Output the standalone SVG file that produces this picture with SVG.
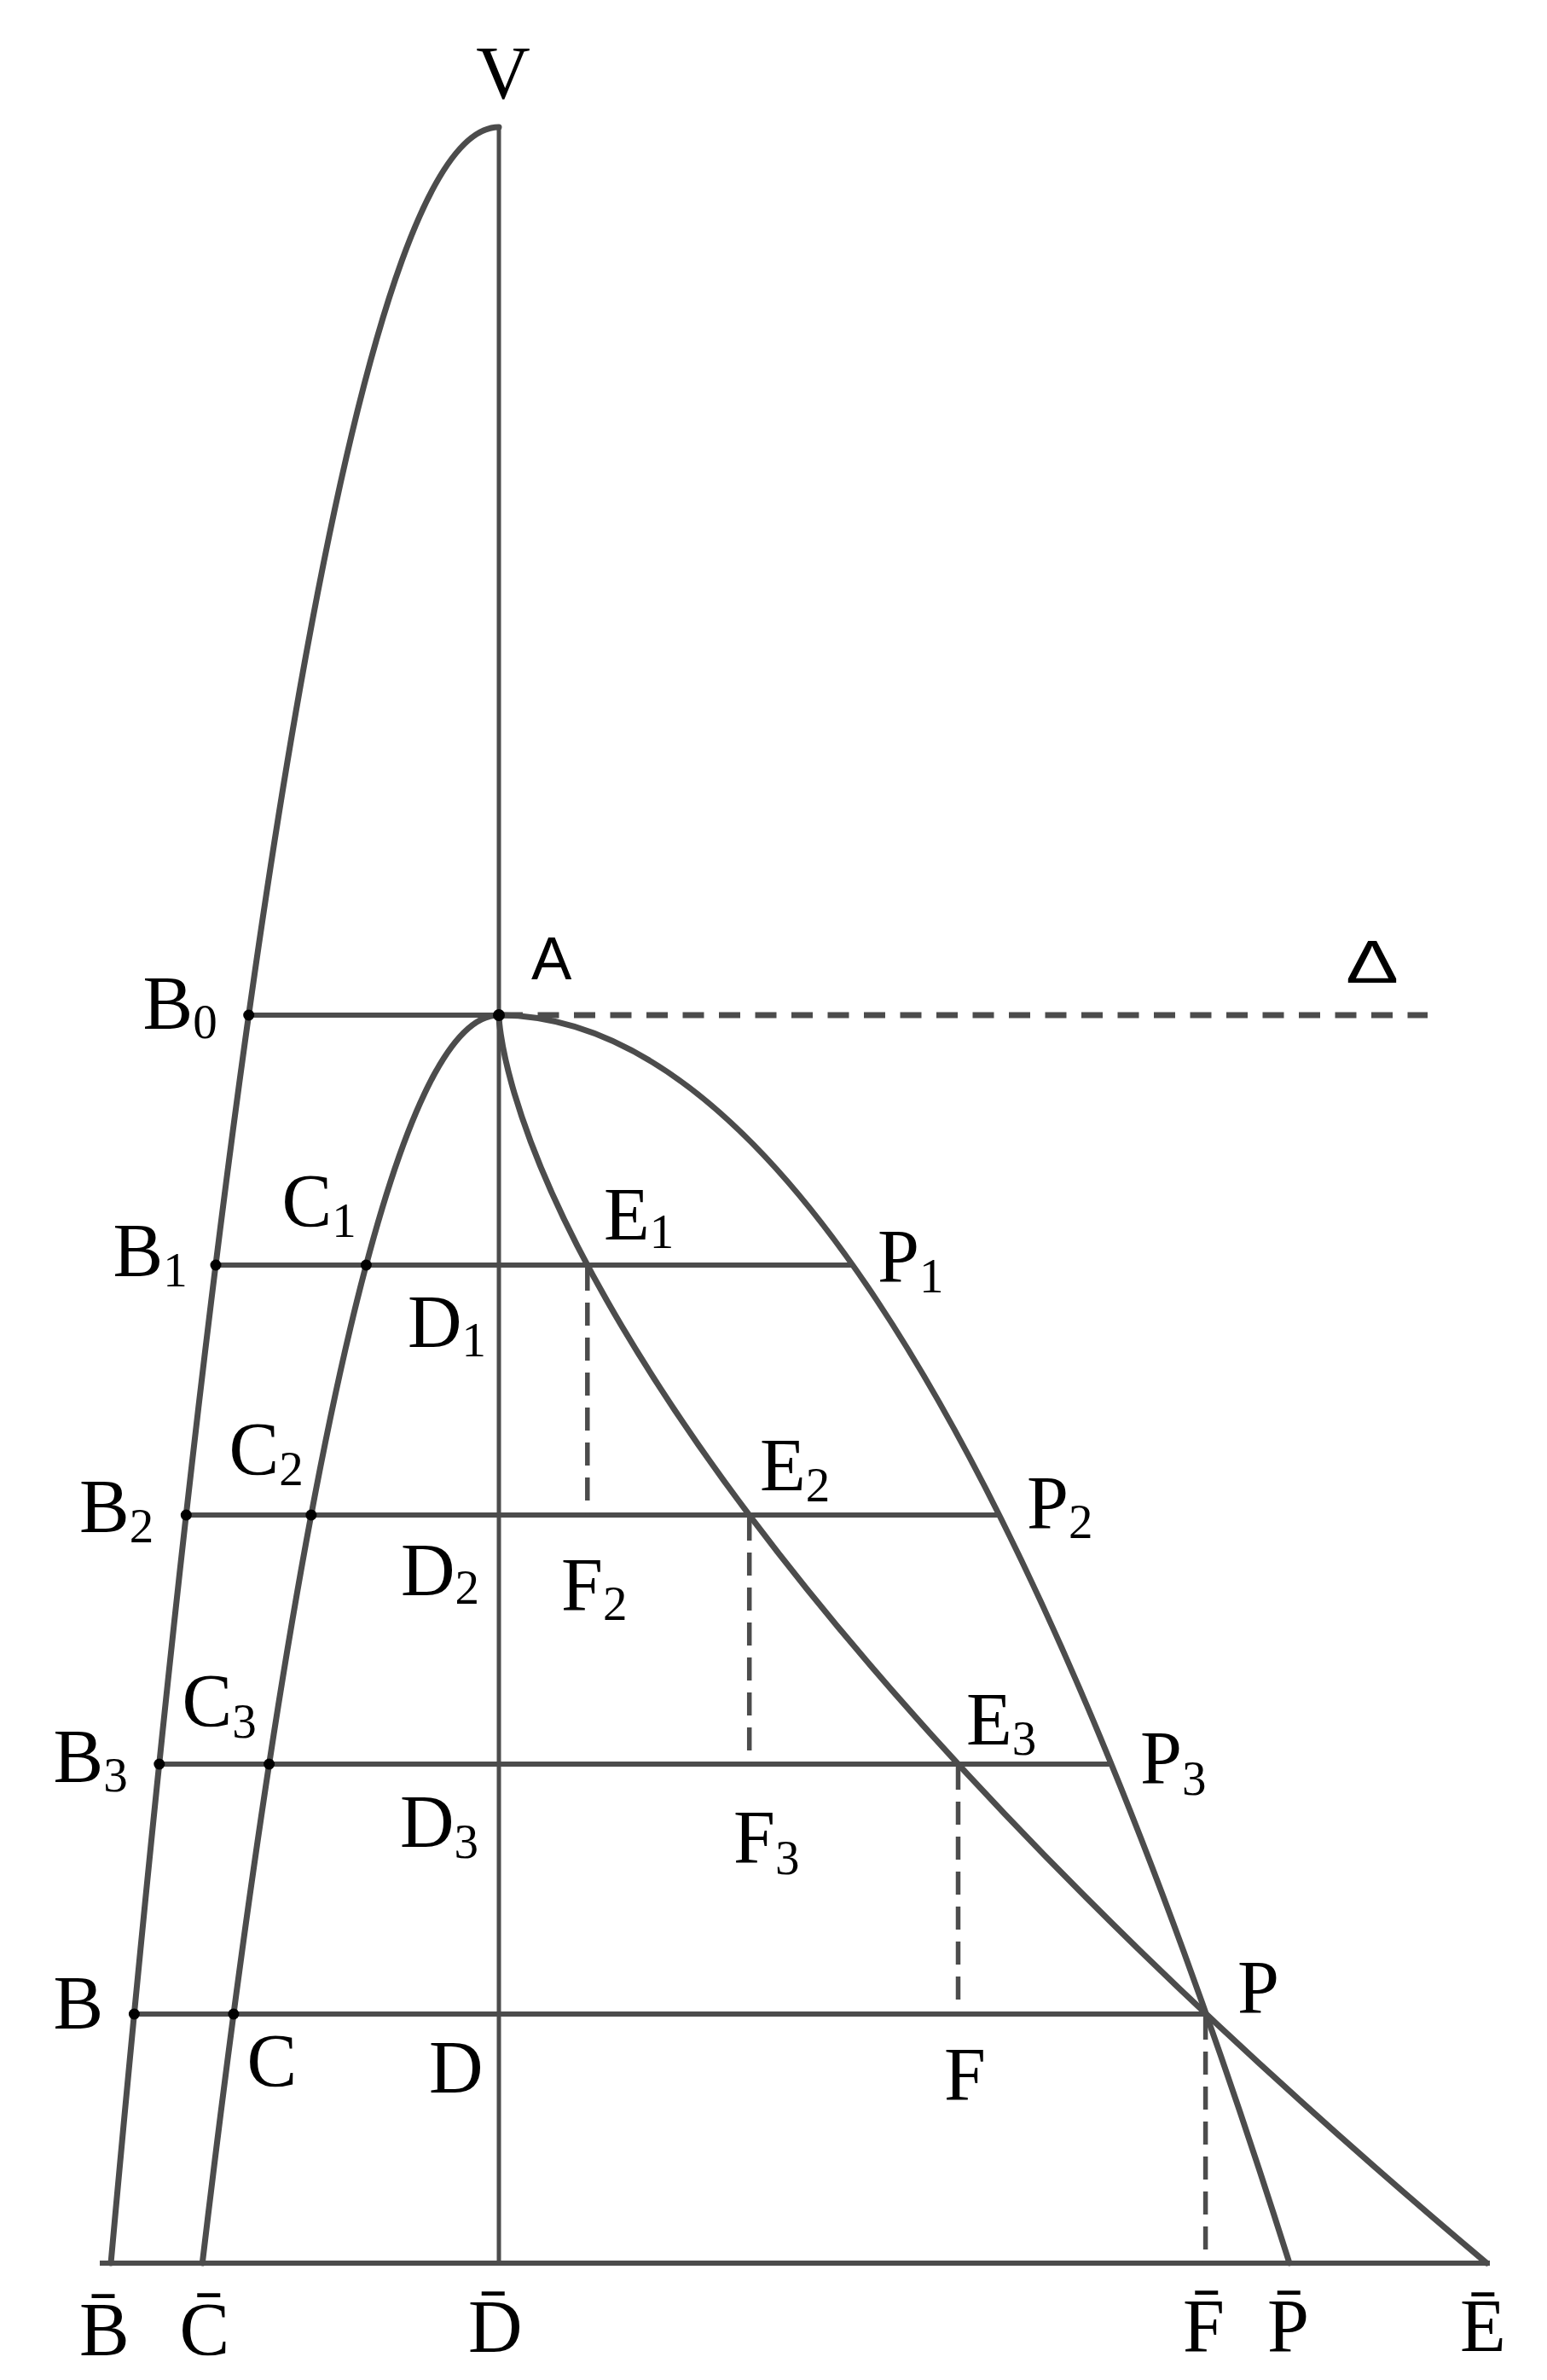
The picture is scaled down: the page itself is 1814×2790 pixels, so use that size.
<svg xmlns="http://www.w3.org/2000/svg" width="1814" height="2790" viewBox="0 0 1814 2790">
<style>
.c{fill:none;stroke:#4c4c4c;stroke-width:7;stroke-linecap:round}
.l{fill:none;stroke:#4c4c4c;stroke-width:6}
.v{fill:none;stroke:#4c4c4c;stroke-width:5}
.dh{fill:none;stroke:#4c4c4c;stroke-width:7;stroke-dasharray:25 17.5}
.dv{fill:none;stroke:#4c4c4c;stroke-width:5.5;stroke-dasharray:27 14}
.t{font-family:"Liberation Serif","Times New Roman",serif;font-size:88px;fill:#000}
.s{font-size:57px}
.a{font-family:"Liberation Sans",Arial,sans-serif;font-size:71px;fill:#000}
.d{fill:#000}
</style>
<rect width="1814" height="2790" fill="#fff"/>
<g id="curves">
<path class="c" d="M585,149 Q357.5,149 130,2653"/>
<path class="c" d="M585,1190 Q411,1190 237.3,2653"/>
<path class="c" d="M585,1190 Q1048.5,1190 1512,2653"/>
<path class="c" d="M585,1190 C585,1190 585,1677.7 1743.3,2653"/>
</g>
<g id="lines">
<line class="v" x1="585" y1="149" x2="585" y2="2653"/>
<line class="l" x1="291.7" y1="1190" x2="585" y2="1190"/>
<line class="dh" x1="588" y1="1190" x2="1674" y2="1190"/>
<line class="l" x1="253" y1="1483" x2="999.4" y2="1483"/>
<line class="l" x1="218.3" y1="1776" x2="1171" y2="1776"/>
<line class="l" x1="186.8" y1="2068" x2="1302.4" y2="2068"/>
<line class="l" x1="157.4" y1="2361" x2="1413.6" y2="2361"/>
<line class="l" x1="117" y1="2653" x2="1747" y2="2653"/>
<line class="dv" x1="688.8" y1="1486" x2="688.8" y2="1776"/>
<line class="dv" x1="878.7" y1="1779" x2="878.7" y2="2068"/>
<line class="dv" x1="1123.5" y1="2071" x2="1123.5" y2="2361"/>
<line class="dv" x1="1413.6" y1="2364" x2="1413.6" y2="2653"/>
</g>
<g id="dots">
<circle class="d" cx="291.7" cy="1190" r="6.5"/>
<circle class="d" cx="585" cy="1190" r="7"/>
<circle class="d" cx="253" cy="1483" r="6.5"/>
<circle class="d" cx="429.4" cy="1483" r="6.5"/>
<circle class="d" cx="218.3" cy="1776" r="6.5"/>
<circle class="d" cx="364.9" cy="1776" r="6.5"/>
<circle class="d" cx="186.8" cy="2068" r="6.5"/>
<circle class="d" cx="315.6" cy="2068" r="6.5"/>
<circle class="d" cx="157.4" cy="2361" r="6.5"/>
<circle class="d" cx="273.9" cy="2361" r="6.5"/>
</g>
<g id="labels">
<text class="t" x="590" y="115" text-anchor="middle">V</text>
<text class="a" x="623" y="1148">A</text>
<text class="a" x="1578" y="1152" textLength="62" lengthAdjust="spacingAndGlyphs">Δ</text>
<text class="t" x="167.5" y="1205">B<tspan class="s" dy="12">0</tspan></text>
<text class="t" x="132.5" y="1495">B<tspan class="s" dy="13">1</tspan></text>
<text class="t" x="330.5" y="1437">C<tspan class="s" dy="13">1</tspan></text>
<text class="t" x="478" y="1579">D<tspan class="s" dy="11">1</tspan></text>
<text class="t" x="708" y="1453">E<tspan class="s" dy="10">1</tspan></text>
<text class="t" x="1029" y="1502">P<tspan class="s" dy="13">1</tspan></text>
<text class="t" x="93" y="1795">B<tspan class="s" dy="13">2</tspan></text>
<text class="t" x="268.5" y="1728">C<tspan class="s" dy="13">2</tspan></text>
<text class="t" x="470" y="1870">D<tspan class="s" dy="10">2</tspan></text>
<text class="t" x="891" y="1747">E<tspan class="s" dy="13">2</tspan></text>
<text class="t" x="1204" y="1791">P<tspan class="s" dy="12">2</tspan></text>
<text class="t" x="658" y="1887">F<tspan class="s" dy="12">2</tspan></text>
<text class="t" x="62.5" y="2088">B<tspan class="s" dy="12">3</tspan></text>
<text class="t" x="213.5" y="2023">C<tspan class="s" dy="14">3</tspan></text>
<text class="t" x="469" y="2165">D<tspan class="s" dy="13">3</tspan></text>
<text class="t" x="1133" y="2045">E<tspan class="s" dy="12">3</tspan></text>
<text class="t" x="1337" y="2090">P<tspan class="s" dy="14">3</tspan></text>
<text class="t" x="860" y="2183">F<tspan class="s" dy="14">3</tspan></text>
<text class="t" x="62.5" y="2377">B</text>
<text class="t" x="289.5" y="2445">C</text>
<text class="t" x="503" y="2453">D</text>
<text class="t" x="1107" y="2461">F</text>
<text class="t" x="1451" y="2359">P</text>
<text class="t" x="93" y="2760">B&#x304;</text>
<text class="t" x="210.5" y="2760">C&#x304;</text>
<text class="t" x="549" y="2757">D&#x304;</text>
<text class="t" x="1387" y="2756">F&#x304;</text>
<text class="t" x="1486" y="2756">P&#x304;</text>
<text class="t" x="1712" y="2756">E&#x304;</text>
</g>
</svg>
